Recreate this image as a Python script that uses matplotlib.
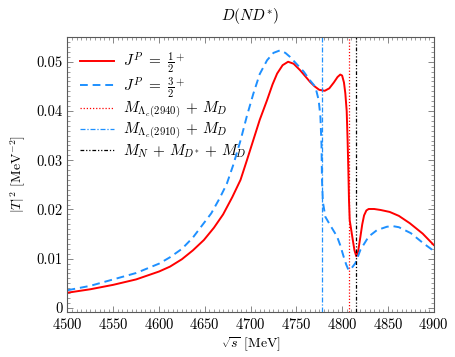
import numpy as np
import matplotlib
matplotlib.use("Agg")
import matplotlib.pyplot as plt
from matplotlib.ticker import MultipleLocator

plt.rcParams['font.family'] = 'serif'
plt.rcParams['font.serif'] = ['cmr10']
plt.rcParams['mathtext.fontset'] = 'cm'
plt.rcParams['axes.formatter.use_mathtext'] = True
plt.rcParams['font.size'] = 10

# J^P = 1/2^+
e_half = [4500, 4525, 4550, 4575, 4600, 4612, 4625, 4637, 4649, 4660, 4670, 4680,
          4689, 4696, 4703, 4710, 4718, 4724, 4729, 4735, 4741, 4747, 4754, 4760,
          4765, 4770, 4775, 4781, 4786, 4791, 4795, 4798, 4800, 4802, 4803.5, 4805,
          4806, 4806.8, 4807.5, 4808.3, 4810, 4811.5, 4813.5, 4815.5, 4817.5, 4820,
          4822, 4824, 4826.5, 4829, 4835, 4842, 4852, 4862, 4874, 4888, 4900]
t_half = [0.0031, 0.0038, 0.0047, 0.0058, 0.0074, 0.0084, 0.0099, 0.0117, 0.0138, 0.0163,
          0.0190, 0.0225, 0.0260, 0.0300, 0.0341, 0.0382, 0.0422, 0.0454, 0.0476, 0.0493,
          0.0500, 0.0496, 0.0483, 0.0470, 0.0459, 0.0450, 0.0443, 0.0441, 0.0446, 0.0458,
          0.0469, 0.0474, 0.0472, 0.0458, 0.0436, 0.0400, 0.0340, 0.0280, 0.0220, 0.0178,
          0.0158, 0.0140, 0.0117, 0.0105, 0.0115, 0.0145, 0.0170, 0.0188, 0.0198, 0.0201,
          0.0201, 0.0199, 0.0195, 0.0187, 0.0172, 0.0151, 0.0128]

# J^P = 3/2^+
e_3half = [4500, 4525, 4550, 4575, 4600, 4612, 4625, 4637, 4648, 4657, 4666, 4674,
           4681, 4689, 4696, 4703, 4710, 4718, 4725, 4732, 4738, 4743, 4750, 4758,
           4765, 4770.8, 4774.4, 4776.3, 4777.5, 4778, 4779, 4781.7, 4787, 4794.5, 4798,
           4801.7, 4804.5, 4807, 4810, 4814.5, 4820, 4829, 4838, 4849, 4856, 4862,
           4875, 4889, 4900]
t_3half = [0.0036, 0.0045, 0.0058, 0.0071, 0.0090, 0.0103, 0.0120, 0.0143, 0.0170, 0.0192,
           0.0222, 0.0252, 0.0290, 0.0340, 0.0390, 0.0435, 0.0475, 0.0503, 0.0518, 0.0523,
           0.0518, 0.0510, 0.0496, 0.0480, 0.0462, 0.0449, 0.0422, 0.0388, 0.0330, 0.0260,
           0.0215, 0.0185, 0.0168, 0.0145, 0.0127, 0.0104, 0.0088, 0.0077, 0.0080, 0.0091,
           0.0118, 0.0145, 0.0158, 0.0165, 0.0166, 0.0164, 0.0152, 0.0131, 0.0116]

# thresholds [MeV]
thr_lc2940 = 4807
thr_lc2910 = 4778
thr_nddstar = 4815

red = '#ff0000'
blue = '#1e90ff'

fig = plt.figure(figsize=(4.56, 3.57), dpi=100)
ax = fig.add_axes([0.148, 0.127, 0.803, 0.769])

ax.plot(e_half, t_half, color=red, lw=1.4, label=r'$J^P\ =\ \frac{1}{2}^{\!+}$')
ax.plot(e_3half, t_3half, color=blue, lw=1.4, ls=(0, (4, 2.5)),
        label=r'$J^P\ =\ \frac{3}{2}^{\!+}$')
ax.axvline(thr_lc2940, color=red, lw=0.9, ls=(0, (1, 1.5)),
           label=r'$M_{\Lambda_c(2940)}\,+\,M_D$')
ax.axvline(thr_lc2910, color=blue, lw=0.9, ls=(0, (4, 1.5, 1, 1.5)),
           label=r'$M_{\Lambda_c(2910)}\,+\,M_D$')
ax.axvline(thr_nddstar, color='black', lw=0.9, ls=(0, (3, 1.5, 1, 1.5, 1, 1.5)),
           label=r'$M_N\,+\,M_{D^{*}}\,+\,M_D$')

ax.set_xlim(4500, 4900)
ax.set_ylim(-0.00075, 0.055)
ax.xaxis.set_major_locator(MultipleLocator(50))
ax.xaxis.set_minor_locator(MultipleLocator(5))
ax.yaxis.set_minor_locator(MultipleLocator(0.001))
ax.set_yticks([0, 0.01, 0.02, 0.03, 0.04, 0.05])
ax.set_yticklabels(['0', '0.01', '0.02', '0.03', '0.04', '0.05'])
ax.tick_params(which='both', direction='in', top=True, right=True, color='0.45',
               labelsize=10.5)
ax.tick_params(which='major', length=4, width=0.6)
ax.tick_params(which='minor', length=2, width=0.5)
for s in ax.spines.values():
    s.set_color('0.35')
    s.set_linewidth(0.8)

ax.set_xlabel(r'$\sqrt{s}$ [MeV]', labelpad=3)
ax.set_ylabel(r'$|T|^2$ [MeV$^{-2}$]', labelpad=6)
ax.set_title(r'$D(ND^{*})$', fontsize=11, pad=12)

ax.legend(loc='upper left', frameon=False, fontsize=11, handlelength=2.2,
          borderaxespad=0.45, labelspacing=0.0, handletextpad=0.6)

fig.savefig('out.png', dpi=100)
